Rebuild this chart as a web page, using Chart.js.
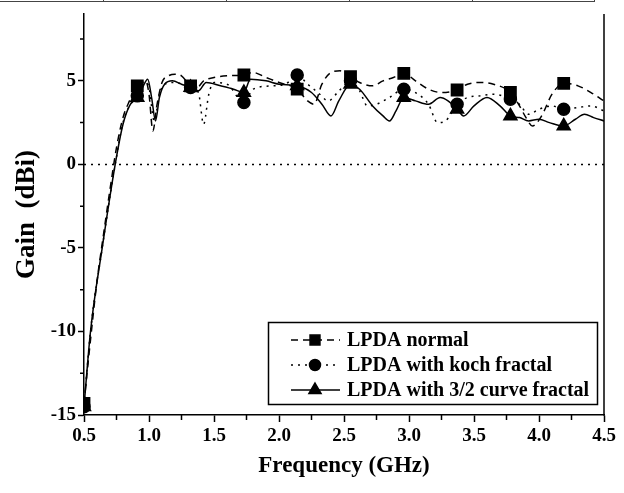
<!DOCTYPE html>
<html>
<head>
<meta charset="utf-8">
<script src="https://cdn.jsdelivr.net/npm/chart.js@4.4.0/dist/chart.umd.min.js"></script>
<style>
  html, body { margin: 0; padding: 0; background: #fff; }
  #wrap { position: relative; width: 624px; height: 493px; }
  /* remains of the table that sits above the figure */
  #topRule { position: absolute; left: 0; top: 0; width: 594px; height: 1px; border-bottom: 1px solid #444; border-right: 1px solid #444; }
  .sep { position: absolute; top: 0; width: 1px; height: 2px; background: #444; }
</style>
</head>
<body>
<div id="wrap">
  <div id="topRule"></div>
  <div class="sep" style="left:103px"></div>
  <div class="sep" style="left:226px"></div>
  <div class="sep" style="left:349px"></div>
  <div class="sep" style="left:472px"></div>
  <canvas id="chart" width="624" height="493"></canvas>
</div>
<script>
// Series data (frequency in GHz, gain in dBi)
const normalFreq = [0.5, 0.55, 0.6, 0.65, 0.7, 0.75, 0.8, 0.85, 0.91, 0.95, 0.975, 1.0, 1.03, 1.06, 1.1, 1.15, 1.2, 1.25, 1.32, 1.37, 1.42, 1.5, 1.6, 1.73, 1.8, 1.9, 2.0, 2.14, 2.22, 2.27, 2.33, 2.4, 2.47, 2.55, 2.62, 2.72, 2.8, 2.88, 2.96, 3.05, 3.15, 3.25, 3.37, 3.45, 3.55, 3.65, 3.78, 3.85, 3.9, 3.95, 4.02, 4.1, 4.19, 4.3, 4.4, 4.5];
const normalGain = [-14.3, -10.5, -7, -4.2, -1.5, 1.0, 2.8, 3.8, 4.7, 4.9, 5.0, 4.2, 2.0, 3.5, 4.9, 5.3, 5.4, 5.3, 4.7, 4.6, 5.0, 5.2, 5.3, 5.35, 5.5, 5.2, 4.9, 4.5, 3.8, 3.6, 4.8, 5.5, 5.6, 5.25, 4.9, 4.7, 5.0, 5.2, 5.45, 5.0, 4.5, 4.3, 4.45, 4.8, 4.9, 4.8, 4.3, 3.5, 2.8, 2.3, 2.9, 4.2, 4.85, 4.7, 4.3, 3.8];

const kochFreq = [0.5, 0.55, 0.64, 0.74, 0.8, 0.85, 0.91, 0.97, 1.0, 1.04, 1.08, 1.12, 1.2, 1.32, 1.38, 1.42, 1.46, 1.5, 1.6, 1.73, 1.8, 1.95, 2.05, 2.14, 2.22, 2.3, 2.38, 2.45, 2.55, 2.62, 2.68, 2.75, 2.85, 2.96, 3.05, 3.15, 3.22, 3.28, 3.37, 3.45, 3.55, 3.65, 3.78, 3.85, 3.92, 4.0, 4.1, 4.19, 4.3, 4.4, 4.5];
const kochGain = [-14.5, -10, -5, 0, 2.5, 3.5, 4.1, 4.9, 4.6, 2.6, 4.2, 4.8, 4.9, 4.6, 4.3, 2.4, 4.2, 4.9, 4.8, 3.7, 4.5, 4.7, 4.8, 5.35, 4.8, 4.3, 3.8, 4.3, 5.0, 4.4, 3.5, 3.6, 4.0, 4.5, 4.3, 3.6, 2.5, 2.6, 3.6, 4.0, 4.1, 4.2, 3.9, 3.6, 3.0, 3.3, 3.5, 3.3, 3.4, 3.5, 3.2];

const curveFreq = [0.5, 0.55, 0.64, 0.74, 0.8, 0.85, 0.91, 0.95, 0.99, 1.02, 1.05, 1.08, 1.12, 1.18, 1.25, 1.32, 1.38, 1.44, 1.55, 1.65, 1.73, 1.78, 1.9, 2.0, 2.14, 2.25, 2.33, 2.4, 2.46, 2.55, 2.62, 2.72, 2.8, 2.85, 2.9, 2.96, 3.05, 3.15, 3.24, 3.3, 3.37, 3.42, 3.5, 3.6, 3.7, 3.78, 3.85, 3.92, 4.0, 4.08, 4.19, 4.28, 4.35, 4.42, 4.5];
const curveGain = [-14.5, -10, -5, 0, 2.4, 3.5, 4.0, 4.6, 5.1, 4.0, 2.6, 4.0, 4.8, 5.0, 4.8, 4.6, 4.4, 4.9, 4.7, 4.5, 4.3, 5.1, 5.0, 4.8, 4.7, 4.3, 3.6, 2.9, 3.8, 4.8, 4.5, 3.5, 2.9, 2.6, 3.2, 4.0, 3.8, 3.6, 4.0, 3.8, 3.3, 2.9, 3.5, 4.0, 3.5, 2.9, 2.8, 2.6, 2.7, 2.5, 2.3, 2.7, 3.0, 2.8, 2.6];

// Frequencies where the symbols are placed
const markerFreq = [0.5, 0.91, 1.32, 1.73, 2.14, 2.55, 2.96, 3.37, 3.78, 4.19];

const seriesLabels = ['LPDA normal', 'LPDA with koch fractal', 'LPDA with 3/2 curve fractal'];
const xTickLabels = ['0.5', '1.0', '1.5', '2.0', '2.5', '3.0', '3.5', '4.0', '4.5'];
const yTickLabels = ['-15', '-10', '-5', '0', '5'];
const zeroLine = [0.5, 4.5];

const FONT = "'Liberation Serif', 'Times New Roman', serif";

function toPoints(xs, ys) {
  return xs.map((x, i) => ({ x: x, y: ys[i] }));
}

function markerRadius(r) {
  return ctx => {
    const x = ctx.raw ? ctx.raw.x : null;
    return markerFreq.some(f => Math.abs(f - x) < 1e-6) ? r : 0;
  };
}

const xMajor = xTickLabels.map(Number);
const yMajor = yTickLabels.map(Number);
const xMinor = xMajor.slice(0, -1).map(v => v + 0.25);
const yMinor = yMajor.map(v => v + 2.5);

// minor ticks, right border, and the legend box
const decorPlugin = {
  id: 'decor',
  afterDraw(chart) {
    const ctx = chart.ctx;
    const area = chart.chartArea;
    const xs = chart.scales.x;
    const ys = chart.scales.y;
    ctx.save();
    ctx.strokeStyle = '#000';
    ctx.lineWidth = 1.5;

    // right border
    ctx.beginPath();
    ctx.moveTo(area.right, area.top);
    ctx.lineTo(area.right, area.bottom + 0.75);
    ctx.stroke();

    // minor ticks
    ctx.beginPath();
    xMinor.forEach(v => {
      const px = xs.getPixelForValue(v);
      ctx.moveTo(px, area.bottom);
      ctx.lineTo(px, area.bottom + 5);
    });
    yMinor.forEach(v => {
      const py = ys.getPixelForValue(v);
      ctx.moveTo(area.left, py);
      ctx.lineTo(area.left - 4, py);
    });
    ctx.stroke();

    // legend
    const bx = 268.5, by = 322.5, bw = 329, bh = 82;
    ctx.fillStyle = '#fff';
    ctx.fillRect(bx, by, bw, bh);
    ctx.strokeRect(bx, by, bw, bh);
    chart.data.datasets.forEach((ds, i) => {
      if (!ds.legend) return;
      const y = 340 + i * 25;
      ctx.save();
      ctx.lineWidth = 1.5;
      ctx.setLineDash(ds.borderDash || []);
      ctx.beginPath();
      ctx.moveTo(291, y);
      ctx.lineTo(340, y);
      ctx.stroke();
      ctx.restore();
      ctx.fillStyle = '#000';
      ctx.strokeStyle = '#000';
      Chart.helpers.drawPoint(ctx, {
        pointStyle: ds.pointStyle,
        radius: ds.legendRadius,
        rotation: 0,
        borderWidth: 1
      }, 315, y);
      ctx.font = "bold 20px " + FONT;
      ctx.textBaseline = 'middle';
      ctx.textAlign = 'left';
      ctx.fillText(ds.label, 347, y + 1);
    });
    ctx.restore();
  }
};

const ctx = document.getElementById('chart').getContext('2d');
new Chart(ctx, {
  type: 'line',
  data: {
    datasets: [
      {
        label: seriesLabels[0],
        legend: true,
        data: toPoints(normalFreq, normalGain),
        borderColor: '#000',
        backgroundColor: '#000',
        borderWidth: 1.5,
        borderDash: [7, 5],
        pointStyle: 'rect',
        pointRadius: markerRadius(8),
        legendRadius: 7,
        pointBackgroundColor: '#000',
        cubicInterpolationMode: 'monotone'
      },
      {
        label: seriesLabels[1],
        legend: true,
        data: toPoints(kochFreq, kochGain),
        borderColor: '#000',
        backgroundColor: '#000',
        borderWidth: 1.5,
        borderDash: [2, 5],
        pointStyle: 'circle',
        pointRadius: markerRadius(6),
        legendRadius: 5.5,
        pointBackgroundColor: '#000',
        cubicInterpolationMode: 'monotone'
      },
      {
        label: seriesLabels[2],
        legend: true,
        data: toPoints(curveFreq, curveGain),
        borderColor: '#000',
        backgroundColor: '#000',
        borderWidth: 1.5,
        pointStyle: 'triangle',
        pointRadius: markerRadius(7.5),
        legendRadius: 7,
        pointBackgroundColor: '#000',
        cubicInterpolationMode: 'monotone'
      },
      {
        label: 'zero',
        data: zeroLine.map(x => ({ x: x, y: 0 })),
        borderColor: '#000',
        borderWidth: 1.5,
        borderDash: [2, 5],
        pointRadius: 0
      }
    ]
  },
  options: {
    responsive: false,
    animation: false,
    events: [],
    layout: { padding: { top: 14, right: 20, left: 0, bottom: 0 } },
    plugins: {
      legend: { display: false },
      tooltip: { enabled: false }
    },
    scales: {
      x: {
        type: 'linear',
        min: 0.5,
        max: 4.5,
        afterBuildTicks: scale => { scale.ticks = xMajor.map(v => ({ value: v })); },
        afterFit: scale => { scale.height = 78; },
        ticks: {
          autoSkip: false,
          maxRotation: 0,
          color: '#000',
          padding: 3,
          font: { family: FONT, size: 19, weight: 'bold' },
          callback: v => xTickLabels[xMajor.indexOf(v)]
        },
        grid: { drawOnChartArea: false, tickLength: 7, color: '#000', tickWidth: 1.5 },
        border: { display: true, color: '#000', width: 1.5 },
        title: {
          display: true,
          text: 'Frequency (GHz)',
          color: '#000',
          font: { family: FONT, size: 23, weight: 'bold' },
          padding: { top: 0, bottom: 13 }
        }
      },
      y: {
        min: -15,
        max: 9,
        afterBuildTicks: scale => { scale.ticks = yMajor.map(v => ({ value: v })); },
        afterFit: scale => { scale.width = 84; },
        ticks: {
          autoSkip: false,
          color: '#000',
          padding: 2,
          font: { family: FONT, size: 19, weight: 'bold' },
          callback: v => yTickLabels[yMajor.indexOf(v)]
        },
        grid: { drawOnChartArea: false, tickLength: 6, color: '#000', tickWidth: 1.5 },
        border: { display: true, color: '#000', width: 1.5 },
        title: {
          display: true,
          text: 'Gain  (dBi)',
          color: '#000',
          font: { family: FONT, size: 27, weight: 'bold' },
          padding: { top: 11, bottom: 0 }
        }
      }
    }
  },
  plugins: [decorPlugin]
});
</script>
</body>
</html>
